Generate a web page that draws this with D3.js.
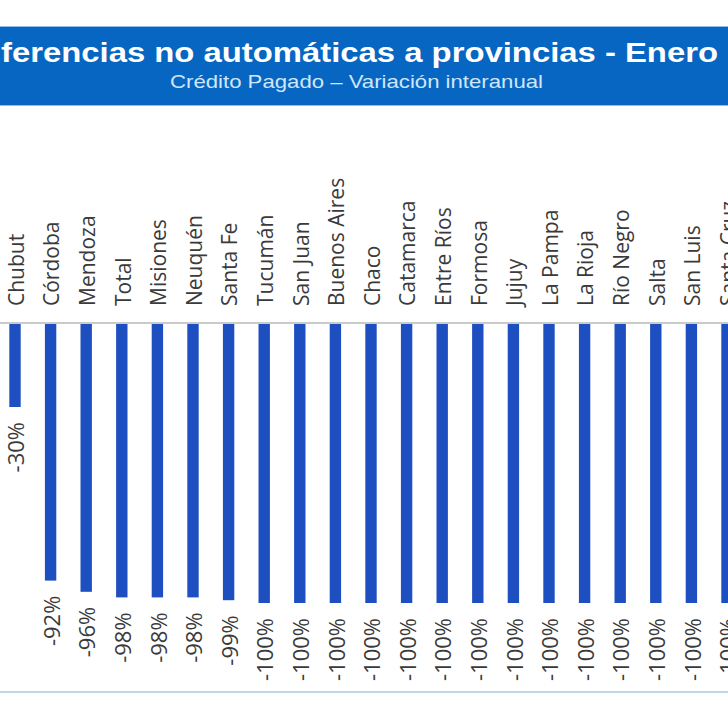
<!DOCTYPE html>
<html>
<head>
<meta charset="utf-8">
<script src="https://cdn.jsdelivr.net/npm/d3@7"></script>
<style>
  html, body { margin: 0; padding: 0; background: #ffffff; }
  svg { display: block; }
</style>
</head>
<body>
<div id="chart"></div>
<script>
const titleText = "ferencias no automáticas a provincias - Enero";
const subtitleText = "Crédito Pagado – Variación interanual";

const categories = ["Chubut", "Córdoba", "Mendoza", "Total", "Misiones", "Neuquén", "Santa Fe",
  "Tucumán", "San Juan", "Buenos Aires", "Chaco", "Catamarca", "Entre Ríos", "Formosa",
  "Jujuy", "La Pampa", "La Rioja", "Río Negro", "Salta", "San Luis", "Santa Cruz"];
const values = [-30, -92, -96, -98, -98, -98, -99,
  -100, -100, -100, -100, -100, -100, -100,
  -100, -100, -100, -100, -100, -100, -100];
const valueLabels = values.map(v => v + "%");

const W = 728, H = 728;
const svg = d3.select("#chart").append("svg").attr("width", W).attr("height", H);

// Title banner
svg.append("rect").attr("x", 0).attr("y", 26).attr("width", W).attr("height", 80).attr("fill", "#0766c1");
svg.append("line").attr("x1", 0).attr("x2", W).attr("y1", 26.5).attr("y2", 26.5).attr("stroke", "#8fbbe6").attr("stroke-width", 1);
svg.append("line").attr("x1", 0).attr("x2", W).attr("y1", 105.5).attr("y2", 105.5).attr("stroke", "#8fbbe6").attr("stroke-width", 1);

svg.append("text").attr("x", 1).attr("y", 62)
  .attr("font-family", "Liberation Sans, Arial, sans-serif").attr("font-weight", "bold")
  .attr("font-size", 27).attr("fill", "#ffffff")
  .attr("textLength", 717).attr("lengthAdjust", "spacingAndGlyphs")
  .text(titleText);

svg.append("text").attr("x", 170).attr("y", 88)
  .attr("font-family", "Liberation Sans, Arial, sans-serif")
  .attr("font-size", 19).attr("fill", "#cfe6fb")
  .attr("textLength", 373).attr("lengthAdjust", "spacingAndGlyphs")
  .text(subtitleText);

// Scales
const x = d3.scalePoint().domain(categories).range([-2.8, -2.8 + categories.length * 35.6]).padding(0.5);
const y = d3.scaleLinear().domain([0, -100]).range([323, 603]);
const bw = x.step() * 0.32;

// Bars
svg.append("g").selectAll("rect").data(categories).join("rect")
  .attr("x", d => x(d) - bw / 2)
  .attr("y", y(0))
  .attr("width", bw)
  .attr("height", (d, i) => y(values[i]) - y(0))
  .attr("fill", "#1e4fc0");

// Baseline
svg.append("line").attr("x1", 0).attr("x2", W).attr("y1", y(0)).attr("y2", y(0))
  .attr("stroke", "#cacaca").attr("stroke-width", 2);

// Category labels
svg.append("g").selectAll("text").data(categories).join("text")
  .attr("transform", d => `translate(${x(d) + 1},${y(0) - 17}) rotate(-90)`)
  .attr("dy", "0.37em")
  .attr("text-anchor", "start")
  .attr("font-family", "Open Sans, sans-serif")
  .attr("font-size", 21).attr("fill", "#3a3a3a")
  .text(d => d);

// Value labels
svg.append("g").selectAll("text").data(categories).join("text")
  .attr("transform", (d, i) => `translate(${x(d) + 1},${y(values[i]) + 15}) rotate(-90)`)
  .attr("dy", "0.37em")
  .attr("text-anchor", "end")
  .attr("font-family", "Open Sans, sans-serif")
  .attr("font-size", 22).attr("fill", "#3a3a3a")
  .text((d, i) => valueLabels[i]);

// Bottom rule
svg.append("line").attr("x1", 0).attr("x2", W).attr("y1", 692).attr("y2", 692)
  .attr("stroke", "#a9cbe3").attr("stroke-width", 1.5);
</script>
</body>
</html>
